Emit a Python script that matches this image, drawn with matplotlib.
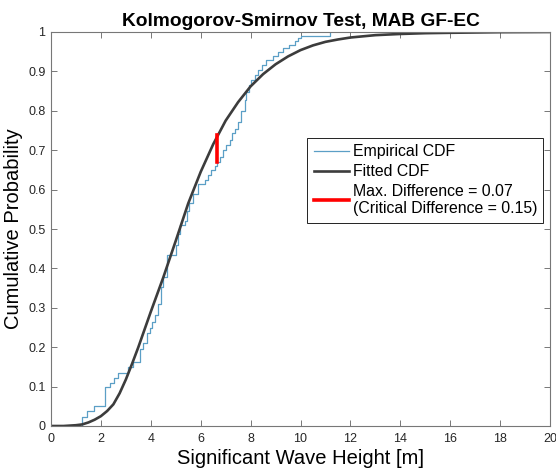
import matplotlib
matplotlib.use("Agg")
import matplotlib.pyplot as plt
import numpy as np

# Empirical CDF: jump locations and level after each jump
ecdf_x = [1.25, 1.45, 1.72, 2.18, 2.36, 2.52, 2.70, 3.08, 3.30, 3.55, 3.69, 3.83,
          3.96, 4.05, 4.16, 4.29, 4.40, 4.49, 4.63, 5.03, 5.09, 5.18, 5.36, 5.45,
          5.55, 5.69, 5.89, 6.16, 6.29, 6.43, 6.56, 6.64, 6.76, 6.89, 7.03, 7.16,
          7.25, 7.36, 7.49, 7.63, 7.76, 7.83, 7.93, 8.03, 8.16, 8.29, 8.45, 8.63,
          8.89, 9.09, 9.29, 9.53, 9.76, 9.89, 10.03, 11.2]
ecdf_y = [0.024, 0.037, 0.050, 0.098, 0.110, 0.122, 0.134, 0.150, 0.163, 0.195, 0.210, 0.235,
          0.248, 0.265, 0.282, 0.310, 0.354, 0.378, 0.434, 0.460, 0.488, 0.510, 0.520, 0.545,
          0.567, 0.590, 0.614, 0.625, 0.637, 0.650, 0.660, 0.671, 0.683, 0.700, 0.713, 0.726,
          0.743, 0.755, 0.772, 0.800, 0.827, 0.848, 0.865, 0.878, 0.891, 0.904, 0.916, 0.929,
          0.940, 0.950, 0.959, 0.967, 0.976, 0.984, 0.990, 1.000]

# Fitted CDF
fit_x = [0, 0.5, 1.0, 1.25, 1.5, 1.75, 2.0, 2.25, 2.5, 2.75, 3.0, 3.25, 3.5, 3.75, 4.0,
         4.5, 5.0, 5.5, 6.0, 6.5, 7.0, 7.5, 8.0, 8.5, 9.0, 9.5, 10.0, 10.5, 11.0,
         11.5, 12.0, 13.0, 14.0, 15.0, 16.0, 18.0, 20.0]
fit_y = [0.0, 0.0, 0.002, 0.004, 0.009, 0.016, 0.025, 0.038, 0.055, 0.083, 0.118, 0.158, 0.200, 0.245, 0.290,
         0.377, 0.470, 0.565, 0.645, 0.715, 0.775, 0.822, 0.862, 0.893, 0.918, 0.938, 0.954, 0.966, 0.975,
         0.981, 0.986, 0.992, 0.995, 0.997, 0.998, 0.9995, 1.0]

# KS max difference marker
ks_x = 6.67
ks_y = [0.671, 0.738]

labels = ["Empirical CDF", "Fitted CDF", "Max. Difference = 0.07\n(Critical Difference = 0.15)"]

plt.rcParams['font.family'] = ['Liberation Sans', 'DejaVu Sans']

fig = plt.figure(figsize=(5.56, 4.75), dpi=100)
ax = fig.add_axes([51/556, 49/475, 499/556, 394/475])

sx = [ecdf_x[0]] + ecdf_x
sy = [0.0] + ecdf_y
ax.step(sx, sy, where='post', color='#5b9fc6', lw=0.9, label=labels[0])
ax.plot(fit_x, fit_y, color='#3c3c3c', lw=1.9, label=labels[1])
ax.plot([ks_x, ks_x], ks_y, color='#ff0000', lw=2.6, label=labels[2])

ax.set_xlim(0, 20)
ax.set_ylim(0, 1)
ax.set_xticks(np.arange(0, 21, 2))
ax.set_yticks(np.arange(0, 1.01, 0.1))
ax.set_yticklabels(["0"] + [f"{v:.1f}" for v in np.arange(0.1, 0.95, 0.1)] + ["1"])
ax.tick_params(direction='in', top=True, right=True, length=4, width=0.7,
               colors='#777777', labelcolor='#262626', labelsize=9)
ax.tick_params(axis='x', pad=5)
ax.tick_params(axis='y', pad=4)
for s in ax.spines.values():
    s.set_color('#777777')
    s.set_linewidth(0.8)

ax.set_title("Kolmogorov-Smirnov Test, MAB GF-EC", fontsize=13.8, fontweight='bold', pad=4)
ax.set_xlabel("Significant Wave Height [m]", fontsize=14.5, labelpad=3)
ax.set_ylabel("Cumulative Probability", fontsize=14.5, labelpad=4)

leg = ax.legend(loc='upper left', bbox_to_anchor=(0.514, 0.731), fontsize=11.4,
                frameon=True, fancybox=False, edgecolor='#222222', framealpha=1,
                handlelength=2.2, handletextpad=0.25, borderpad=0.4, labelspacing=0.3,
                borderaxespad=0)
leg.get_frame().set_linewidth(0.7)

fig.savefig("out.png", dpi=100)
